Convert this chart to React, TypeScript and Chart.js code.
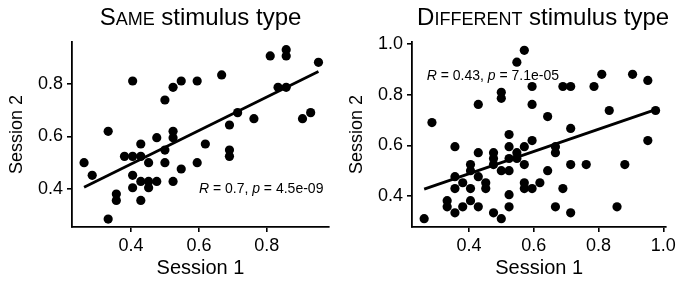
import React, { useEffect, useRef } from "react";
import { Chart, registerables } from "chart.js";

Chart.register(...registerables);

const FONT = "'Liberation Sans', Arial, Helvetica, sans-serif";

// ---- Data: Same stimulus type ----
const sameX = [0.262, 0.286, 0.333, 0.333, 0.357, 0.357, 0.381, 0.405, 0.405, 0.405, 0.405, 0.429, 0.429, 0.429, 0.429, 0.452, 0.452, 0.452, 0.476, 0.476, 0.5, 0.5, 0.5, 0.524, 0.524, 0.524, 0.524, 0.548, 0.548, 0.595, 0.595, 0.619, 0.667, 0.69, 0.69, 0.69, 0.714, 0.762, 0.81, 0.833, 0.857, 0.857, 0.857, 0.905, 0.929, 0.952];
const sameY = [0.5, 0.452, 0.619, 0.286, 0.381, 0.357, 0.524, 0.524, 0.81, 0.452, 0.405, 0.571, 0.524, 0.429, 0.357, 0.5, 0.429, 0.405, 0.595, 0.429, 0.738, 0.548, 0.5, 0.786, 0.619, 0.595, 0.429, 0.81, 0.476, 0.81, 0.5, 0.571, 0.833, 0.643, 0.548, 0.524, 0.69, 0.667, 0.905, 0.786, 0.929, 0.905, 0.786, 0.667, 0.69, 0.881];

// ---- Data: Different stimulus type ----
const diffX = [0.262, 0.286, 0.333, 0.333, 0.357, 0.357, 0.357, 0.357, 0.381, 0.381, 0.405, 0.405, 0.405, 0.405, 0.429, 0.429, 0.429, 0.429, 0.452, 0.452, 0.476, 0.476, 0.476, 0.476, 0.5, 0.5, 0.5, 0.5, 0.524, 0.524, 0.524, 0.524, 0.524, 0.524, 0.548, 0.548, 0.548, 0.571, 0.571, 0.571, 0.571, 0.571, 0.595, 0.595, 0.595, 0.595, 0.619, 0.643, 0.643, 0.667, 0.667, 0.667, 0.69, 0.69, 0.714, 0.714, 0.714, 0.714, 0.762, 0.786, 0.81, 0.833, 0.857, 0.881, 0.905, 0.952, 0.952, 0.976];
const diffY = [0.31, 0.69, 0.357, 0.381, 0.595, 0.476, 0.429, 0.333, 0.452, 0.357, 0.524, 0.5, 0.429, 0.381, 0.762, 0.571, 0.476, 0.357, 0.452, 0.429, 0.571, 0.548, 0.524, 0.333, 0.81, 0.786, 0.5, 0.31, 0.643, 0.595, 0.548, 0.5, 0.405, 0.357, 0.929, 0.571, 0.548, 0.976, 0.595, 0.524, 0.452, 0.429, 0.833, 0.762, 0.619, 0.429, 0.452, 0.714, 0.5, 0.595, 0.571, 0.357, 0.833, 0.429, 0.833, 0.667, 0.524, 0.333, 0.524, 0.833, 0.881, 0.738, 0.357, 0.524, 0.881, 0.857, 0.619, 0.738];

// ---- Axis ticks and ranges ----
const sameXTicks = [0.4, 0.6, 0.8];
const sameYTicks = [0.4, 0.6, 0.8];
const diffXTicks = [0.4, 0.6, 0.8, 1.0];
const diffYTicks = [0.4, 0.6, 0.8, 1.0];
const sameXRange = [0.2265, 0.983];
const sameYRange = [0.256, 0.958];
const diffXRange = [0.2245, 1.009];
const diffYRange = [0.277, 1.009];

// ---- Text ----
const sameTitle = ["Same", " stimulus type"];
const diffTitle = ["Different", " stimulus type"];
const xAxisTitle = "Session 1";
const yAxisTitle = "Session 2";
const sameStat = { r: "0.7", p: "4.5e-09", x: 0.6, y: 0.385 };
const diffStat = { r: "0.43", p: "7.1e-05", x: 0.27, y: 0.858 };

function fitLine(xs: number[], ys: number[]) {
  const n = xs.length;
  const mx = xs.reduce((a, b) => a + b, 0) / n;
  const my = ys.reduce((a, b) => a + b, 0) / n;
  let sxy = 0, sxx = 0;
  for (let i = 0; i < n; i++) {
    sxy += (xs[i] - mx) * (ys[i] - my);
    sxx += (xs[i] - mx) * (xs[i] - mx);
  }
  const b = sxy / sxx;
  const a = my - b * mx;
  const x0 = Math.min(...xs), x1 = Math.max(...xs);
  return [{ x: x0, y: a + b * x0 }, { x: x1, y: a + b * x1 }];
}

const decorPlugin = {
  id: "decor",
  afterDraw(chart: any, _args: any, opts: any) {
    const { ctx, chartArea, scales } = chart;
    ctx.save();
    ctx.fillStyle = "#000";
    ctx.textBaseline = "alphabetic";
    // small-caps title
    const big = 24, small = 18;
    const lead: string = opts.title[0];
    const parts = [
      { t: lead[0].toUpperCase(), s: big },
      { t: lead.slice(1).toUpperCase(), s: small },
      { t: opts.title[1], s: big },
    ];
    let total = 0;
    const widths = parts.map((p) => {
      ctx.font = `${p.s}px ${FONT}`;
      const w = ctx.measureText(p.t).width;
      total += w;
      return w;
    });
    let x = (chartArea.left + chartArea.right) / 2 - total / 2 + (opts.titleShift || 0);
    parts.forEach((p, i) => {
      ctx.font = `${p.s}px ${FONT}`;
      ctx.fillText(p.t, x, 25);
      x += widths[i];
    });
    // stat annotation
    const st = opts.stat;
    const sx = scales.x.getPixelForValue(st.x);
    const sy = scales.y.getPixelForValue(st.y);
    const sparts = [
      { t: "R", it: true },
      { t: ` = ${st.r}, `, it: false },
      { t: "p", it: true },
      { t: ` = ${st.p}`, it: false },
    ];
    let ax = sx;
    sparts.forEach((p) => {
      ctx.font = `${p.it ? "italic " : ""}14px ${FONT}`;
      ctx.fillText(p.t, ax, sy);
      ax += ctx.measureText(p.t).width;
    });
    ctx.restore();
  },
};

type PanelProps = {
  xs: number[];
  ys: number[];
  xTicks: number[];
  yTicks: number[];
  xRange: number[];
  yRange: number[];
  title: string[];
  titleShift: number;
  stat: any;
  width: number;
  left: number;
};

function Panel(props: PanelProps) {
  const ref = useRef<HTMLCanvasElement | null>(null);
  useEffect(() => {
    if (!ref.current) return;
    const pts = props.xs.map((x, i) => ({ x, y: props.ys[i] }));
    const fit = fitLine(props.xs, props.ys);
    const tickFont = { size: 18, family: FONT };
    const chart = new Chart(ref.current, {
      type: "scatter",
      data: {
        datasets: [
          {
            type: "line",
            data: fit,
            borderColor: "#000",
            borderWidth: 2.8,
            pointRadius: 0,
            showLine: true,
            fill: false,
          } as any,
          {
            data: pts,
            pointRadius: 4.6,
            pointBackgroundColor: "#000",
            pointBorderWidth: 0,
            pointHoverRadius: 4.6,
          },
        ],
      },
      options: {
        responsive: false,
        animation: false,
        events: [],
        clip: false as any,
        layout: { padding: { left: 0, right: props.width - 328 - 1, top: 42, bottom: 0 } },
        plugins: {
          legend: { display: false },
          tooltip: { enabled: false },
          decor: { title: props.title, stat: props.stat, titleShift: props.titleShift },
        } as any,
        scales: {
          x: {
            type: "linear",
            min: props.xRange[0],
            max: props.xRange[1],
            afterBuildTicks: (s: any) => {
              s.ticks = props.xTicks.map((v) => ({ value: v }));
            },
            afterFit: (s: any) => {
              s.height = 54;
            },
            ticks: {
              callback: (v: any) => Number(v).toFixed(1),
              color: "#000",
              font: tickFont,
              padding: 3,
              maxRotation: 0,
              autoSkip: false,
            },
            grid: { display: true, drawOnChartArea: false, drawTicks: true, tickLength: 5, color: "#000", lineWidth: 1.6 },
            border: { display: true, color: "#000", width: 1.8 },
            title: { display: true, text: xAxisTitle, color: "#000", font: { size: 20, family: FONT }, padding: { top: 0, bottom: 1 } },
          },
          y: {
            type: "linear",
            min: props.yRange[0],
            max: props.yRange[1],
            afterBuildTicks: (s: any) => {
              s.ticks = props.yTicks.map((v) => ({ value: v }));
            },
            afterFit: (s: any) => {
              s.width = 72;
            },
            ticks: {
              callback: (v: any) => Number(v).toFixed(1),
              color: "#000",
              font: tickFont,
              padding: 4,
              autoSkip: false,
            },
            grid: { display: true, drawOnChartArea: false, drawTicks: true, tickLength: 5, color: "#000", lineWidth: 1.6 },
            border: { display: true, color: "#000", width: 1.8 },
            title: { display: true, text: yAxisTitle, color: "#000", font: { size: 18, family: FONT }, padding: { top: 6, bottom: 0 } },
          },
        },
      },
      plugins: [decorPlugin],
    });
    return () => chart.destroy();
  }, []);
  return (
    <div style={{ position: "absolute", left: props.left, top: 0, width: props.width, height: 281 }}>
      <canvas ref={ref} width={props.width} height={281} style={{ display: "block" }} />
    </div>
  );
}

export default function App() {
  return (
    <div style={{ position: "fixed", left: 0, top: 0, width: 679, height: 281, background: "#fff", overflow: "hidden" }}>
      <Panel xs={sameX} ys={sameY} xTicks={sameXTicks} yTicks={sameYTicks} xRange={sameXRange} yRange={sameYRange} title={sameTitle} titleShift={0} stat={sameStat} width={340} left={0} />
      <Panel xs={diffX} ys={diffY} xTicks={diffXTicks} yTicks={diffYTicks} xRange={diffXRange} yRange={diffYRange} title={diffTitle} titleShift={4} stat={diffStat} width={339} left={340} />
    </div>
  );
}
